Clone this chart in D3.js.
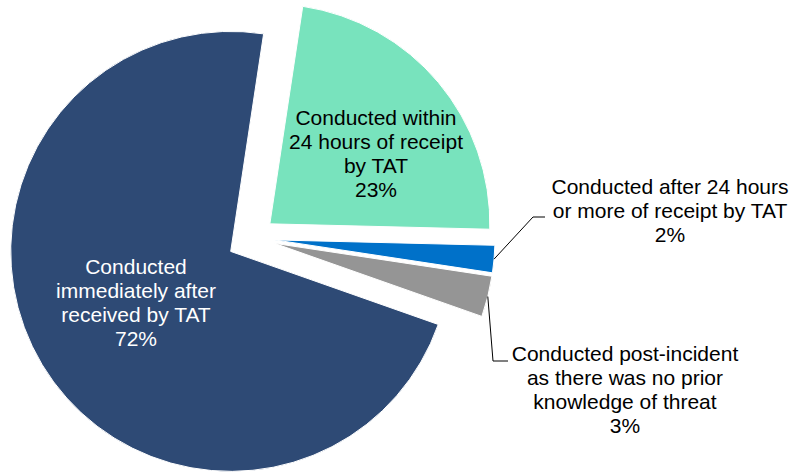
<!DOCTYPE html>
<html>
<head>
<meta charset="utf-8">
<script src="https://cdn.jsdelivr.net/npm/d3@7"></script>
<style>
  html, body { margin: 0; padding: 0; background: #ffffff; }
  svg { display: block; }
  text { font-family: "Liberation Sans", Arial, sans-serif; }
</style>
</head>
<body>
<svg id="chart" width="796" height="473"></svg>
<script>
// Categories, shares (%) and wrapped label lines, in slice order (clockwise)
const categories = [
  "Conducted within 24 hours of receipt by TAT",
  "Conducted after 24 hours or more of receipt by TAT",
  "Conducted post-incident as there was no prior knowledge of threat",
  "Conducted immediately after received by TAT"
];
const values = [23, 2, 3, 72];
const labelLines = [
  ["Conducted within", "24 hours of receipt", "by TAT"],
  ["Conducted after 24 hours", "or more of receipt by TAT"],
  ["Conducted post-incident", "as there was no prior", "knowledge of threat"],
  ["Conducted", "immediately after", "received by TAT"]
];
const colors = ["#78e3bd", "#0071c9", "#959595", "#2e4a75"];

// Layout
const width = 796, height = 473;
const cx = 253, cy = 238, radius = 220;
const firstSliceAngle = 8.6 * Math.PI / 180;
const explode = [22, 22, 22, 26];
// label block centres (first line) and text colours
const labelPos = [
  { x: 376, y: 118, inside: true,  fill: "#000000" },
  { x: 670, y: 187, inside: false, fill: "#000000", elbow: [533, 217], end: 545 },
  { x: 625, y: 354, inside: false, fill: "#000000", elbow: [493, 361], end: 508 },
  { x: 136, y: 267, inside: true,  fill: "#ffffff" }
];
const lineStep = 24;
const fontSize = 21;

const svg = d3.select("#chart");

const data = categories.map((c, i) => ({ category: c, value: values[i], i }));

const pie = d3.pie()
  .sort(null)
  .value(d => d.value)
  .startAngle(firstSliceAngle)
  .endAngle(firstSliceAngle + 2 * Math.PI);

const arcs = pie(data);
const arc = d3.arc().innerRadius(0).outerRadius(radius);

function offsetFor(a) {
  const mid = (a.startAngle + a.endAngle) / 2;
  const d = explode[a.data.i];
  return [cx + d * Math.sin(mid), cy - d * Math.cos(mid)];
}

const g = svg.append("g");

g.selectAll("path.slice")
  .data(arcs)
  .join("path")
  .attr("class", "slice")
  .attr("transform", a => `translate(${offsetFor(a)})`)
  .attr("d", arc)
  .attr("fill", a => colors[a.data.i])
  .attr("stroke", "#ffffff")
  .attr("stroke-width", 1);

// Leader lines for the two small slices
arcs.forEach(a => {
  const lp = labelPos[a.data.i];
  if (lp.inside) return;
  const [ox, oy] = offsetFor(a);
  const mid = (a.startAngle + a.endAngle) / 2;
  const px = ox + radius * Math.sin(mid);
  const py = oy - radius * Math.cos(mid);
  g.append("path")
    .attr("d", d3.line()([[px, py], lp.elbow, [lp.end, lp.elbow[1]]]))
    .attr("fill", "none")
    .attr("stroke", "#000000")
    .attr("stroke-width", 1);
});

// Data labels: category text plus percentage
arcs.forEach(a => {
  const i = a.data.i;
  const lp = labelPos[i];
  const lines = labelLines[i].concat([d3.format(".0%")(a.data.value / 100)]);
  const t = g.append("text")
    .attr("text-anchor", "middle")
    .attr("font-size", fontSize)
    .attr("fill", lp.fill);
  lines.forEach((ln, k) => {
    t.append("tspan")
      .attr("x", lp.x)
      .attr("y", lp.y + k * lineStep)
      .attr("dy", "0.35em")
      .text(ln);
  });
});
</script>
</body>
</html>
